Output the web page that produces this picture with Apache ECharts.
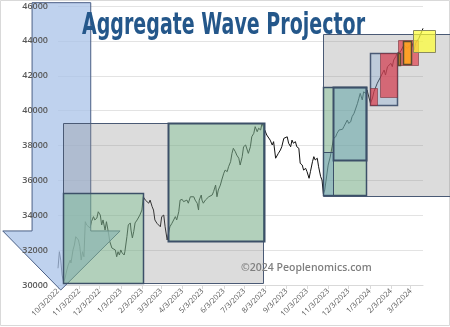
<!DOCTYPE html>
<html>
<head>
<meta charset="utf-8">
<script src="https://cdn.jsdelivr.net/npm/echarts@6/dist/echarts.min.js"></script>
<style>
  html, body { margin: 0; padding: 0; background: #ffffff; }
  #chart { width: 450px; height: 327px; }
</style>
</head>
<body>
<div id="chart"></div>
<script>
// Axis range and monthly tick labels
const axisStart = '2022-10-03';
const axisEnd = '2024-03-21';
const tickLabels = ['10/3/2022', '11/3/2022', '12/3/2022', '1/3/2023', '2/3/2023', '3/3/2023',
  '4/3/2023', '5/3/2023', '6/3/2023', '7/3/2023', '8/3/2023', '9/3/2023', '10/3/2023',
  '11/3/2023', '12/3/2023', '1/3/2024', '2/3/2024', '3/3/2024'];

// Index closes
const lineDates = [
  '2022-10-03','2022-10-05','2022-10-07','2022-10-09','2022-10-11','2022-10-13','2022-10-16','2022-10-18',
  '2022-10-21','2022-10-22','2022-10-25','2022-10-27','2022-10-29','2022-10-31','2022-11-02','2022-11-04',
  '2022-11-06','2022-11-08','2022-11-10','2022-11-12','2022-11-14','2022-11-16','2022-11-19','2022-11-21',
  '2022-11-24','2022-11-26','2022-11-29','2022-12-01','2022-12-04','2022-12-06','2022-12-08','2022-12-11',
  '2022-12-13','2022-12-16','2022-12-18','2022-12-21','2022-12-23','2022-12-26','2022-12-28','2022-12-30',
  '2023-01-01','2023-01-03','2023-01-05','2023-01-08','2023-01-09','2023-01-12','2023-01-14','2023-01-17',
  '2023-01-18','2023-01-20','2023-01-22','2023-01-24','2023-01-27','2023-01-29','2023-01-31','2023-02-03',
  '2023-02-05','2023-02-08','2023-02-10','2023-02-13','2023-02-15','2023-02-18','2023-02-20','2023-02-22',
  '2023-02-25','2023-02-27','2023-03-02','2023-03-04','2023-03-07','2023-03-09','2023-03-12','2023-03-14',
  '2023-03-16','2023-03-19','2023-03-21','2023-03-24','2023-03-26','2023-03-29','2023-03-31','2023-04-03',
  '2023-04-05','2023-04-07','2023-04-10','2023-04-12','2023-04-15','2023-04-17','2023-04-20','2023-04-22',
  '2023-04-25','2023-04-27','2023-04-28','2023-05-01','2023-05-02','2023-05-04','2023-05-07','2023-05-09',
  '2023-05-12','2023-05-14','2023-05-17','2023-05-19','2023-05-22','2023-05-24','2023-05-26','2023-05-29',
  '2023-05-31','2023-06-03','2023-06-05','2023-06-08','2023-06-10','2023-06-13','2023-06-15','2023-06-17',
  '2023-06-20','2023-06-22','2023-06-25','2023-06-27','2023-06-30','2023-07-02','2023-07-05','2023-07-07',
  '2023-07-09','2023-07-12','2023-07-14','2023-07-17','2023-07-19','2023-07-22','2023-07-24','2023-07-27',
  '2023-07-29','2023-07-31','2023-08-05','2023-08-10','2023-08-13','2023-08-15','2023-08-18','2023-08-20',
  '2023-08-22','2023-08-25','2023-08-27','2023-08-30','2023-09-01','2023-09-04','2023-09-06','2023-09-09',
  '2023-09-11','2023-09-13','2023-09-16','2023-09-18','2023-09-21','2023-09-23','2023-09-26','2023-09-28',
  '2023-10-01','2023-10-03','2023-10-06','2023-10-08','2023-10-11','2023-10-13','2023-10-15','2023-10-18',
  '2023-10-20','2023-10-23','2023-10-25','2023-10-27','2023-10-29','2023-11-01','2023-11-03','2023-11-06',
  '2023-11-11','2023-11-14','2023-11-16','2023-11-19','2023-11-21','2023-11-24','2023-11-26','2023-11-28',
  '2023-12-01','2023-12-03','2023-12-06','2023-12-08','2023-12-11','2023-12-13','2023-12-16','2023-12-18',
  '2023-12-20','2023-12-23','2023-12-25','2023-12-28','2023-12-30','2024-01-04','2024-01-07','2024-01-09',
  '2024-01-14','2024-01-19','2024-01-21','2024-01-24','2024-01-26','2024-01-29','2024-02-03','2024-02-05',
  '2024-02-07','2024-02-10','2024-02-12','2024-02-17','2024-02-22','2024-02-27','2024-02-29','2024-03-05',
  '2024-03-08','2024-03-10','2024-03-15','2024-03-20','2024-03-21'
];
const lineValues = [
  30960, 31910, 31430, 30570, 30190, 30340, 30860, 31150,
  31430, 31260, 32010, 32290, 32770, 32870, 32580, 32200,
  31430, 31910, 31620, 33630, 33440, 33340, 33270, 33630,
  33920, 33730, 33840, 34200, 34010, 33440, 33730, 33150,
  33630, 32980, 32480, 32120, 32200, 32010, 31620, 31910,
  31720, 32010, 31840, 31720, 31910, 32770, 33440, 33560,
  33150, 32700, 33060, 33560, 33730, 33630, 34010, 34300,
  35060, 34870, 34970, 34690, 34870, 34490, 34300, 33730,
  33540, 33630, 33340, 33920, 34010, 33340, 32580, 32970,
  33340, 33540, 33440, 33920, 33730, 34200, 34870, 34910,
  34780, 34690, 34870, 34690, 35060, 34970, 35060, 34870,
  34690, 34300, 34870, 35160, 34870, 34690, 34870, 34970,
  35060, 34970, 35160, 35350, 35730, 35060, 35450, 35730,
  36020, 36410, 36590, 36500, 36780, 37070, 37550, 37840,
  37640, 37450, 37270, 36880, 37360, 37930, 38030, 37930,
  37550, 37930, 38500, 38700, 39080, 38790, 38990, 38890,
  39270, 39170, 38600, 38310, 38030, 38220, 37270, 37170,
  37550, 37740, 37930, 38410, 38500, 38500, 38130, 37930,
  38310, 38130, 38220, 37930, 37840, 36980, 36880, 36590,
  36690, 36500, 36120, 36500, 37070, 37360, 37170, 37270,
  36780, 36210, 36020, 35220, 35450, 36310, 36880, 37340,
  38410, 38500, 38700, 38890, 38990, 38930, 39080, 39170,
  39460, 39270, 39360, 39650, 39850, 39940, 40420, 40710,
  40990, 40610, 41080, 40990, 41180, 40420, 40720, 41080,
  41570, 41940, 41850, 42330, 42040, 42520, 42710, 42520,
  42900, 43090, 43290, 43380, 43760, 43570, 43660, 43860,
  43480, 43860, 44150, 44620, 44720
];

// Wave projection boxes (drawn in this order)
const boxStarts = ['2022-10-10', '2023-10-26', '2022-10-11', '2023-03-13', '2023-10-27', '2023-11-10', '2023-10-27',
  '2024-01-04', '2024-01-04', '2024-01-18', '2024-02-14', '2024-02-13', '2024-02-21', '2024-03-06'];
const boxEnds = ['2023-07-31', '2024-05-01', '2023-02-04', '2023-08-01', '2023-12-29', '2023-12-29', '2023-11-10',
  '2024-02-12', '2024-01-14', '2024-02-12', '2024-03-14', '2024-02-17', '2024-03-03', '2024-04-07'];
const boxLows = [30130, 35100, 30140, 32540, 35160, 37170, 35160, 40320, 40320, 40800, 42620, 42600, 42690, 43340];
const boxHighs = [39300, 44380, 35250, 39290, 41370, 41370, 37640, 43320, 41280, 43290, 44050, 43290, 43970, 44600];
const boxKinds = ['gray', 'gray', 'green', 'greenBold', 'green', 'tealBold', 'teal',
  'blue', 'red', 'red', 'red', 'orange', 'orange', 'yellow'];

// Down arrow: head left, shaft left, tip, shaft right, head right / top, head base, tip level
const arrowDates = ['2022-07-14', '2022-08-26', '2022-10-07', '2022-11-20', '2023-01-02'];
const arrowLevels = [46190, 33100, 29710];

const boxStyles = {
  gray:      { fill: 'rgba(140,140,140,0.30)', stroke: '#4a5a75', width: 1 },
  green:     { fill: 'rgba(120,190,140,0.42)', stroke: '#3c5068', width: 1.5 },
  greenBold: { fill: 'rgba(120,190,140,0.42)', stroke: '#3c5068', width: 2 },
  teal:      { fill: 'rgba(90,145,200,0.30)',  stroke: '#3c5068', width: 1 },
  tealBold:  { fill: 'rgba(90,145,200,0.30)',  stroke: '#3c5068', width: 2 },
  blue:      { fill: 'rgba(100,150,210,0.25)', stroke: '#4a5a75', width: 1.5 },
  red:       { fill: 'rgba(225,50,65,0.65)',   stroke: 'rgba(120,50,60,0.6)', width: 1 },
  orange:    { fill: 'rgba(255,165,30,0.9)',   stroke: '#5a4a30', width: 1.5 },
  yellow:    { fill: 'rgba(255,255,50,0.70)',  stroke: '#8a8a60', width: 1 }
};

function toTime(s) {
  const p = s.split('-').map(Number);
  return new Date(p[0], p[1] - 1, p[2]).getTime();
}
function labelTime(s) {
  const p = s.split('/').map(Number);
  return new Date(p[2], p[0] - 1, p[1]).getTime();
}
const tickTimes = tickLabels.map(labelTime);

const chart = echarts.init(document.getElementById('chart'), null, { renderer: 'canvas' });

const lineData = lineDates.map((d, i) => [toTime(d), lineValues[i]]);
const boxData = boxStarts.map((s, i) => [toTime(s), toTime(boxEnds[i]), boxLows[i], boxHighs[i]]);

function crisp(v) { return Math.round(v) + 0.5; }

chart.setOption({
  animation: false,
  backgroundColor: '#ffffff',
  grid: { left: 58, right: 27, top: 6, bottom: 42 },
  xAxis: {
    type: 'value',
    min: toTime(axisStart),
    max: toTime(axisEnd),
    splitLine: { show: false },
    axisLine: { show: true, lineStyle: { color: '#d9d9d9', width: 1 } },
    axisTick: { show: true, length: 4, lineStyle: { color: '#d9d9d9' }, customValues: tickTimes },
    axisLabel: {
      customValues: tickTimes,
      rotate: 45,
      margin: 5,
      fontSize: 7.5,
      fontFamily: 'Open Sans',
      color: '#595959',
      formatter: function (val) {
        const i = tickTimes.indexOf(val);
        return i >= 0 ? tickLabels[i] : '';
      }
    }
  },
  yAxis: [
    {
      type: 'value', min: 30000, max: 46000, interval: 2000,
      axisLine: { show: false }, axisTick: { show: false },
      axisLabel: { show: false },
      splitLine: { lineStyle: { color: '#e3e3e3', width: 1 } }
    },
    {
      type: 'value', min: 30000, max: 46000, interval: 2000, position: 'left', z: 20,
      axisLine: { show: false }, axisTick: { show: false },
      splitLine: { show: false },
      axisLabel: {
        margin: 10, fontSize: 9, fontWeight: 600, fontFamily: 'Open Sans', color: '#595959',
        formatter: function (v) { return String(v); }
      }
    }
  ],
  series: [
    {
      type: 'line',
      data: lineData,
      showSymbol: false,
      symbol: 'none',
      z: 2,
      lineStyle: { color: '#111111', width: 1 }
    },
    {
      type: 'custom',
      z: 3,
      clip: false,
      data: [[toTime(arrowDates[2]), arrowLevels[2]]],
      renderItem: function (params, api) {
        const t = arrowDates.map(toTime);
        const top = arrowLevels[0], base = arrowLevels[1], tip = arrowLevels[2];
        const pts = [
          [t[1], top], [t[3], top], [t[3], base], [t[4], base],
          [t[2], tip], [t[0], base], [t[1], base]
        ].map(p => api.coord(p));
        return {
          type: 'polygon',
          shape: { points: pts },
          style: { fill: 'rgba(170,195,232,0.75)', stroke: '#4a5f85', lineWidth: 1 }
        };
      }
    },
    {
      type: 'custom',
      z: 4,
      clip: false,
      encode: { x: [0, 1], y: [2, 3] },
      data: boxData,
      renderItem: function (params, api) {
        const a = api.coord([api.value(0), api.value(3)]);
        const b = api.coord([api.value(1), api.value(2)]);
        const st = boxStyles[boxKinds[params.dataIndex]];
        const x0 = crisp(a[0]), y0 = crisp(a[1]), x1 = crisp(b[0]), y1 = crisp(b[1]);
        return {
          type: 'rect',
          shape: { x: x0, y: y0, width: x1 - x0, height: y1 - y0 },
          style: { fill: st.fill, stroke: st.stroke, lineWidth: st.width }
        };
      }
    }
  ],
  graphic: [
    {
      type: 'rect', z: -1, silent: true,
      shape: { x: 0.5, y: 0.5, width: 449, height: 325 },
      style: { fill: 'none', stroke: '#d9d9d9', lineWidth: 1 }
    },
    {
      type: 'text', z: 100, x: 82, y: 26, scaleX: 0.705,
      style: {
        text: 'Aggregate Wave Projector',
        font: 'bold 30px "DejaVu Sans Condensed", "DejaVu Sans", sans-serif',
        fill: '#24578a', verticalAlign: 'middle', align: 'left'
      }
    },
    {
      type: 'text', z: 100, x: 241, y: 268,
      style: {
        text: '©2024 Peoplenomics.com',
        font: '600 10.5px "Open Sans", sans-serif',
        fill: '#7f7f7f', verticalAlign: 'middle', align: 'left'
      }
    }
  ]
});
</script>
</body>
</html>
